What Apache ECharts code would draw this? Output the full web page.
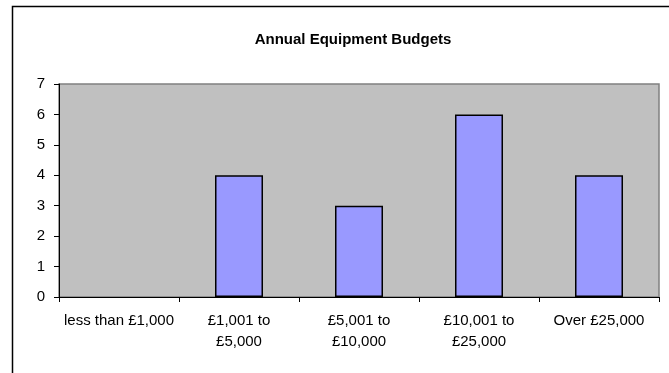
<!DOCTYPE html>
<html>
<head>
<meta charset="utf-8">
<script src="https://cdn.jsdelivr.net/npm/echarts@6/dist/echarts.min.js"></script>
<style>html,body{margin:0;padding:0;background:#fff;}#c{width:669px;height:373px;}</style>
</head>
<body>
<div id="c"></div>
<script>
const categories = ['less than £1,000', '£1,001 to\n£5,000', '£5,001 to\n£10,000', '£10,001 to\n£25,000', 'Over £25,000'];
const values = [0, 4, 3, 6, 4];
const yTicks = [0, 1, 2, 3, 4, 5, 6, 7];

const chart = echarts.init(document.getElementById('c'), null, {renderer: 'canvas'});
chart.setOption({
  animation: false,
  backgroundColor: '#ffffff',
  title: {
    text: 'Annual Equipment Budgets',
    left: 348, top: 27, textAlign: 'center',
    textStyle: {fontFamily: 'Liberation Sans, Arial', fontSize: 15, fontWeight: 'bold', color: '#000'}
  },
  graphic: [{
    type: 'rect', shape: {x: 12.5, y: 6.5, width: 700, height: 400},
    style: {fill: 'none', stroke: '#000', lineWidth: 1.5}, silent: true
  }],
  grid: {
    left: 59, right: 10, top: 84, bottom: 76,
    show: true, backgroundColor: '#c0c0c0', borderColor: '#808080', borderWidth: 1.5
  },
  xAxis: {
    type: 'category', data: categories,
    axisLine: {show: true, lineStyle: {color: '#000', width: 1}},
    axisTick: {show: true, alignWithLabel: false, length: 5, lineStyle: {color: '#000'}},
    axisLabel: {interval: 0, margin: 13, color: '#000', fontFamily: 'Liberation Sans, Arial', fontSize: 15, lineHeight: 21}
  },
  yAxis: {
    type: 'value', min: yTicks[0], max: yTicks[yTicks.length - 1], interval: 1,
    axisLine: {show: true, lineStyle: {color: '#000', width: 1}},
    axisTick: {show: true, length: 5, lineStyle: {color: '#000'}},
    splitLine: {show: false},
    axisLabel: {margin: 14, color: '#000', fontFamily: 'Liberation Sans, Arial', fontSize: 15}
  },
  series: [{
    type: 'bar',
    data: values.map(v => ({value: v, itemStyle: v === 0 ? {borderWidth: 0} : {}})),
    barWidth: '40%',
    itemStyle: {color: '#9999ff', borderColor: '#000', borderWidth: 1.5}
  }]
});
</script>
</body>
</html>
